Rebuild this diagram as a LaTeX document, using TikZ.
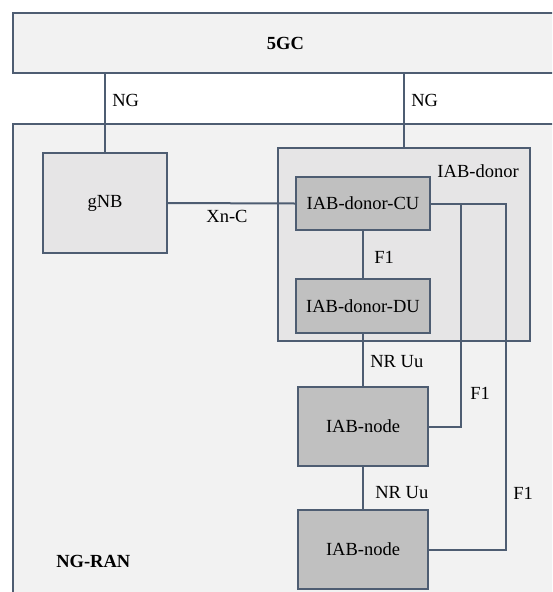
\documentclass[tikz,border=0pt]{standalone}
\usepackage{fontspec}
\setmainfont{Liberation Serif}
\usetikzlibrary{positioning}

\definecolor{edge}{HTML}{4E5D72}
\definecolor{bgfill}{HTML}{F2F2F2}
\definecolor{midfill}{HTML}{E6E5E6}
\definecolor{unitfill}{HTML}{C0C0C0}

\begin{document}
\begin{tikzpicture}[x=1pt,y=-1pt,
    font=\fontsize{18.5}{22}\selectfont,
    line width=2pt,
    area/.style={draw=edge,fill=bgfill,rectangle,inner sep=0pt},
    midbox/.style={draw=edge,fill=midfill,rectangle,inner sep=0pt},
    unitbox/.style={draw=edge,fill=unitfill,rectangle,inner sep=0pt,
                    minimum width=130pt,minimum height=79pt},
    link/.style={draw=edge}]
    \path[use as bounding box,clip] (0,0) rectangle (552,592);
    \fill[white] (0,0) rectangle (552,592);
    % core network and RAN areas
    \node[area,minimum width=545pt,minimum height=60pt] (core) at (285.4,43) {\bfseries 5GC};
    \node[area,minimum width=620pt,minimum height=520pt] (ran) at (322.7,384) {};
    \node[anchor=west] (ranlbl) at (52,561) {\bfseries NG-RAN};
    % base stations
    \node[midbox,minimum width=124pt,minimum height=100pt] (gnb) at (105,203) {gNB};
    \node[midbox,minimum width=252pt,minimum height=193pt] (donor) at (404,244.5) {};
    \node[anchor=east] (donorlbl) at (523,171) {IAB-donor};
    \node[unitbox,minimum width=134pt,minimum height=53pt] (cu) at (363,203.5) {IAB-donor-CU};
    \node[unitbox,minimum width=134pt,minimum height=54pt] (du) at (363,306) {IAB-donor-DU};
    \node[unitbox] (n1) at (363,426.5) {IAB-node};
    \node[unitbox] (n2) at (363,549.5) {IAB-node};
    % interfaces
    \draw[link] (gnb.north) -- (gnb.north |- core.south);
    \draw[link] (donor.north) -- (donor.north |- core.south);
    \draw[link] (gnb.east) -- (cu.west);
    \draw[link] (cu.south) -- (du.north);
    \draw[link] (du.south) -- (n1.north);
    \draw[link] (n1.south) -- (n2.north);
    \coordinate (f1a) at (461,203.5);
    \coordinate (f1b) at (506,203.5);
    \draw[link] (cu.east) -- (f1b) |- (n2.east);
    \draw[link] (n1.east) -| (f1a);
    % interface labels
    \node[anchor=west] (ng1) at (108,100) {NG};
    \node[anchor=west] (ng2) at (407,100) {NG};
    \node (xnc) at (227,216) {Xn-C};
    \node[anchor=west] (f1c) at (370,257) {F1};
    \node[anchor=west] (uu1) at (366,362) {NR Uu};
    \node[anchor=west] (f1d) at (466,393) {F1};
    \node[anchor=west] (uu2) at (371,493) {NR Uu};
    \node[anchor=west] (f1e) at (509,493) {F1};
\end{tikzpicture}
\end{document}
